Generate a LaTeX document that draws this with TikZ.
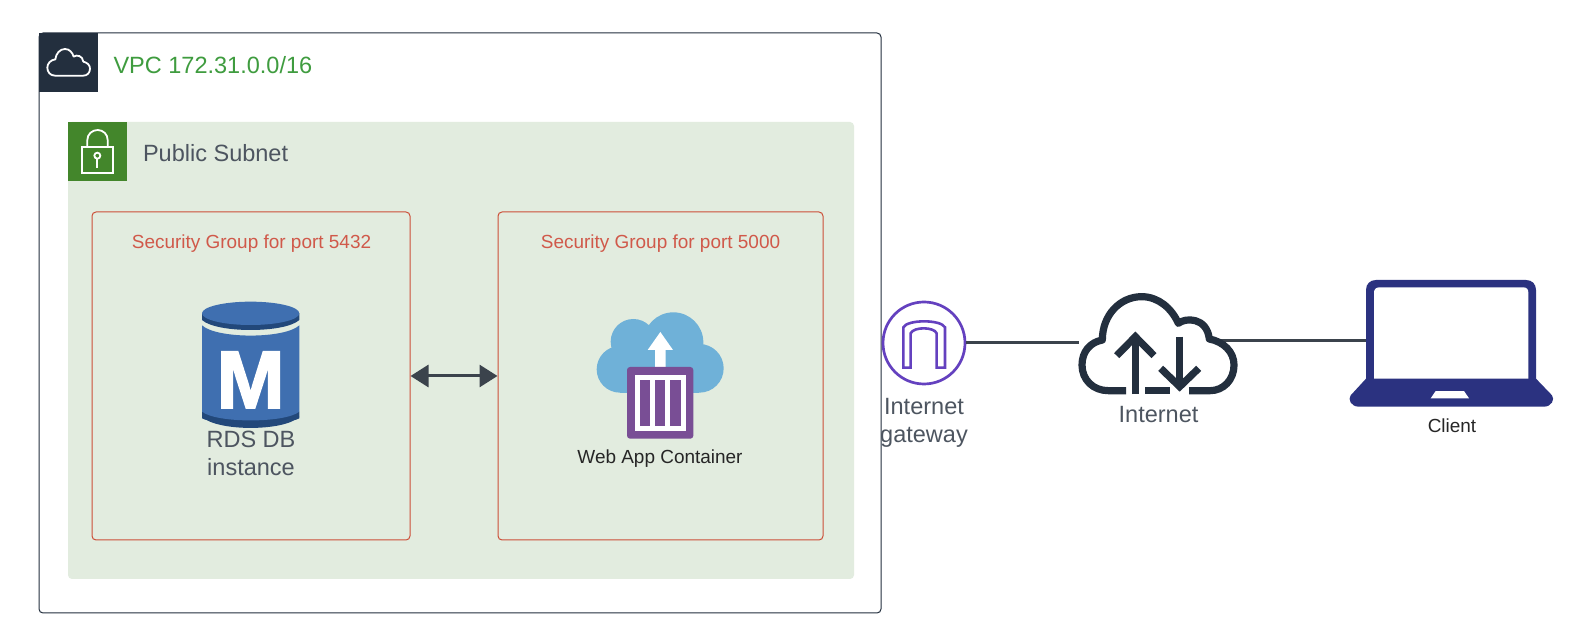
\documentclass[tikz,border=0pt]{standalone}
\usepackage{fontspec}
\setmainfont{Liberation Sans}
\newfontfamily\mglyphfont[BoldFeatures={FakeBold=2}]{Liberation Sans}
\usetikzlibrary{arrows.meta}
\definecolor{navy}{HTML}{232F3E}
\definecolor{subnetbg}{HTML}{E2ECDF}
\definecolor{subnetgreen}{HTML}{43862B}
\definecolor{vpcgreen}{HTML}{3F9C3F}
\definecolor{sgred}{HTML}{CC4F38}
\definecolor{sgtext}{HTML}{D0594A}
\definecolor{greytext}{HTML}{4D5560}
\definecolor{linecol}{HTML}{3B434C}
\definecolor{dbblue}{HTML}{3F6FB0}
\definecolor{dbdark}{HTML}{22487A}
\definecolor{cloudblue}{HTML}{6FB1D8}
\definecolor{purp}{HTML}{794E95}
\definecolor{igwpurp}{HTML}{6441BF}
\definecolor{laptop}{HTML}{2B3280}
\tikzset{
  lbl/.style={inner sep=0pt,outer sep=0pt},
  big/.style={lbl,font=\fontsize{11.76}{14}\selectfont},
  small/.style={lbl,font=\fontsize{9.48}{11}\selectfont},
  vpcbox/.style={draw=navy,line width=0.5pt,fill=white,rounded corners=2pt,minimum width=421pt,minimum height=290pt,inner sep=0pt},
  subnetbox/.style={fill=subnetbg,rounded corners=2pt,minimum width=393pt,minimum height=228.5pt,inner sep=0pt},
  sgbox/.style={draw=sgred,line width=0.5pt,rounded corners=2pt,minimum height=164pt,inner sep=0pt},
  ghost/.style={inner sep=0pt,outer sep=0pt},
  conn/.style={draw=linecol,line width=1.5pt},
  zoomed/.style={x=0.166667pt,y=-0.166667pt}
}
\begin{document}
\begin{tikzpicture}[x=0.5pt,y=-0.5pt]
\useasboundingbox (0,0) rectangle (1574,640);
\fill[white] (0,0) rectangle (1574,640);
% boxes
\node[vpcbox] (vpc) at (460,323) {};
\node[subnetbox] (subnet) at (461,350.5) {};
\node[sgbox,minimum width=159pt,fill=none] (sga) at (251,376) {};
\node[sgbox,minimum width=162.5pt,fill=none] (sgb) at (660.5,376) {};
% header tiles
\fill[navy] (39,33) rectangle (98,92);
\fill[subnetgreen] (68,122) rectangle (127,181);
\begin{scope}[shift={(30,25)},zoomed]
  \draw[white,line width=0.9pt,line join=round] (75,152) .. controls (60,152) and (52,140) .. (52,128) .. controls (52,115) and (62,105) .. (76,103) .. controls (78,85) and (90,72) .. (105,72) .. controls (118,72) and (127,82) .. (131,95) .. controls (140,88) and (158,92) .. (160,110) .. controls (172,113) and (180,120) .. (180,131) .. controls (180,143) and (172,152) .. (160,152) -- cycle;
  \draw[white,line width=0.9pt] (155,365) rectangle (250,443);
  \draw[white,line width=0.9pt] (172,365) -- (172,345) .. controls (172,328) and (186,315) .. (203,315) .. controls (220,315) and (233,328) .. (233,345) -- (233,365);
  \draw[white,line width=0.9pt] (202,392) circle (9);
  \draw[white,line width=0.9pt] (202,401) -- (202,428);
\end{scope}
% labels
\node[big,anchor=base west,text=vpcgreen] (vpclabel) at (113.5,74) {VPC 172.31.0.0/16};
\node[big,anchor=base west,text=greytext] (subnetlabel) at (143,162) {Public Subnet};
\node[small,anchor=base,text=sgtext] (sgalabel) at (251.5,249) {Security Group for port 5432};
\node[small,anchor=base,text=sgtext] (sgblabel) at (660.5,249) {Security Group for port 5000};
% database
\begin{scope}[shift={(180,290)},zoomed]
  \fill[dbdark] (66,365) -- (66,385) .. controls (100,405) and (324,405) .. (358,385) -- (358,365) -- cycle;
  \fill[dbdark] (66,380) .. controls (110,425) and (314,425) .. (358,380) -- cycle;
  \fill[dbblue] (66,106) .. controls (110,147) and (314,147) .. (358,106) -- (358,365) .. controls (314,400) and (110,400) .. (66,365) -- cycle;
  \fill[dbdark] (66,70) -- (66,90) .. controls (110,130) and (314,130) .. (358,90) -- (358,70) -- cycle;
  \fill[dbblue] (212,70) ellipse (146 and 35);
\end{scope}
\node[lbl,text=white,anchor=base,font=\fontsize{41}{42}\mglyphfont\bfseries\selectfont] (mglyph) at (250.5,408) {M};
\node[big,text=greytext,align=center] (rdslabel) at (251,453) {RDS DB\\instance};
% web app
\begin{scope}[shift={(400,300)},zoomed]
  \fill[cloudblue] (660,208) circle (70);
  \fill[cloudblue] (700,125) circle (68);
  \fill[cloudblue] (820,127) circle (90);
  \fill[cloudblue] (898,205) circle (73);
  \fill[cloudblue] (660,160) rectangle (898,278);
  \fill[white] (765,205) -- (765,150) -- (743,150) -- (781,96) -- (819,150) -- (797,150) -- (797,205) -- cycle;
  \fill[purp,rounded corners=1.5pt] (681,201) rectangle (880,416);
  \fill[white] (705,225) rectangle (858,393);
  \fill[purp] (720,240) rectangle (750,378);
  \fill[purp] (765,240) rectangle (795,378);
  \fill[purp] (810,240) rectangle (843,378);
\end{scope}
\node[small,anchor=base,text=black!85] (weblabel) at (660,464) {Web App Container};
% ghost nodes for right-hand icons
\node[circle,draw=igwpurp,fill=white,line width=1.35pt,minimum size=41pt,inner sep=0pt] (igw) at (924,343) {};
\node[ghost,minimum width=79pt,minimum height=50pt] (inet) at (1158,343) {};
\node[ghost,minimum width=85pt,minimum height=61pt] (client) at (1451,341) {};
% connectors
\draw[conn,{Triangle[length=9pt,width=11pt]}-{Triangle[length=9pt,width=11pt]}] (sga.east) -- (sgb.west);
\draw[conn] (igw.east) -- (inet.west);
\draw[conn] (inet.center |- client.west) -- (client.west);
% igw arch
\begin{scope}[shift={(870,285)},zoomed]
  \draw[igwpurp,line width=1.3pt,line join=miter] (100,248) -- (100,127) .. controls (112,103) and (213,103) .. (225,127) -- (225,248) -- (200,248) -- (200,145) .. controls (192,125) and (130,125) .. (122,145) -- (122,248) -- cycle;
  % internet cloud
  \fill[white] (715,317) .. controls (670,317) and (636,285) .. (636,240) .. controls (636,200) and (660,172) .. (697,165) .. controls (697,90) and (750,35) .. (815,35) .. controls (865,35) and (905,70) .. (925,115) .. controls (945,98) and (1010,95) .. (1018,162) .. controls (1060,170) and (1092,200) .. (1092,240) .. controls (1092,285) and (1060,317) .. (1020,317) -- cycle;
  \draw[navy,line width=3.6pt,line join=round] (768,317) -- (715,317) .. controls (670,317) and (636,285) .. (636,240) .. controls (636,200) and (660,172) .. (697,165) .. controls (697,90) and (750,35) .. (815,35) .. controls (865,35) and (905,70) .. (925,115) .. controls (945,98) and (1010,95) .. (1018,162) .. controls (1060,170) and (1092,200) .. (1092,240) .. controls (1092,285) and (1060,317) .. (1020,317) -- (957,317);
  \draw[navy,line width=3.6pt] (825,317) -- (900,317);
  \draw[navy,line width=3.6pt] (796,327) -- (796,155);
  \draw[navy,line width=3.6pt] (740,212) -- (796,155) -- (852,212);
  \draw[navy,line width=3.6pt] (929,155) -- (929,305);
  \draw[navy,line width=3.6pt] (872,250) -- (929,305) -- (986,250);
\end{scope}
\node[big,text=greytext,align=center] (igwlabel) at (924,423) {Internet\\gateway};
\node[big,anchor=base,text=greytext] (inetlabel) at (1158.5,423) {Internet};
% laptop
\begin{scope}[shift={(1340,270)},zoomed]
  \fill[laptop] (78,326) -- (78,60) .. controls (78,42) and (90,30) .. (108,30) -- (558,30) .. controls (576,30) and (588,42) .. (588,60) -- (588,326) -- (636,376) .. controls (645,388) and (635,410) .. (612,410) -- (56,410) .. controls (33,410) and (23,388) .. (32,376) -- cycle;
  \fill[white] (102,326) -- (102,68) .. controls (102,58) and (108,52) .. (118,52) -- (550,52) .. controls (560,52) and (565,58) .. (565,68) -- (565,326) -- cycle;
  \fill[white] (287,363) -- (372,363) -- (387,385) -- (272,385) -- cycle;
\end{scope}
\node[small,anchor=base,text=black!85] (clientlabel) at (1452,433) {Client};
\end{tikzpicture}
\end{document}
